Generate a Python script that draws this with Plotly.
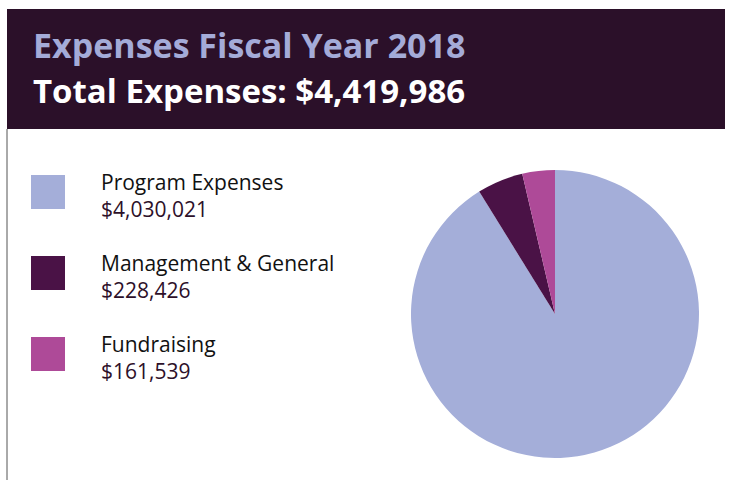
import plotly.graph_objects as go

categories = ["Program Expenses", "Management & General", "Fundraising"]
amounts = [4030021, 228426, 161539]
colors = ["#a4aed9", "#4a1246", "#ae4a98"]
total = sum(amounts)

W, H = 731, 480

def px_x(x):
    return x / W

def px_y(y):
    return 1 - y / H

fig = go.Figure(
    go.Pie(
        labels=categories,
        values=amounts,
        marker=dict(colors=colors, line=dict(width=0)),
        sort=False,
        direction="clockwise",
        rotation=0,
        textinfo="none",
        hoverinfo="label+value",
        showlegend=False,
        domain=dict(x=[px_x(411), px_x(699)], y=[px_y(458), px_y(170)]),
    )
)

shapes = [
    # header band
    dict(type="rect", xref="paper", yref="paper", x0=px_x(7), x1=px_x(725),
         y0=px_y(129), y1=px_y(9), fillcolor="#2b1029", line=dict(width=0), layer="below"),
    # left rule
    dict(type="line", xref="paper", yref="paper", x0=px_x(7), x1=px_x(7),
         y0=0, y1=px_y(129), line=dict(color="#555555", width=1)),
]
annotations = [
    dict(text="<b>Expenses Fiscal Year 2018</b>", x=px_x(31), y=px_y(70), xanchor="left", yanchor="bottom",
         font=dict(family="Open Sans", size=34, color="#a4abd8")),
    dict(text=f"<b>Total Expenses: ${total:,}</b>", x=px_x(31), y=px_y(115), xanchor="left", yanchor="bottom",
         font=dict(family="Open Sans", size=33, color="#ffffff")),
]

# legend rows: square + name and amount on two lines
row_tops = [175, 256, 337]
for name, amt, col, top in zip(categories, amounts, colors, row_tops):
    shapes.append(dict(type="rect", xref="paper", yref="paper", x0=px_x(31), x1=px_x(65),
                       y0=px_y(top + 34), y1=px_y(top), fillcolor=col, line=dict(width=0)))
    annotations.append(dict(text=f"{name}<br><span style='color:#2d1029'>${amt:,}</span>",
                            x=px_x(99), y=px_y(top - 9), xanchor="left", yanchor="top", align="left",
                            font=dict(family="Open Sans", size=21, color="#111111")))

for a in annotations:
    a["showarrow"] = False

fig.update_layout(
    width=W, height=H,
    margin=dict(l=0, r=0, t=0, b=0),
    paper_bgcolor="white",
    plot_bgcolor="white",
    shapes=shapes,
    annotations=annotations,
)

fig.write_html("out.html", config={"displayModeBar": False},
               post_script="document.body.style.margin='0';")
